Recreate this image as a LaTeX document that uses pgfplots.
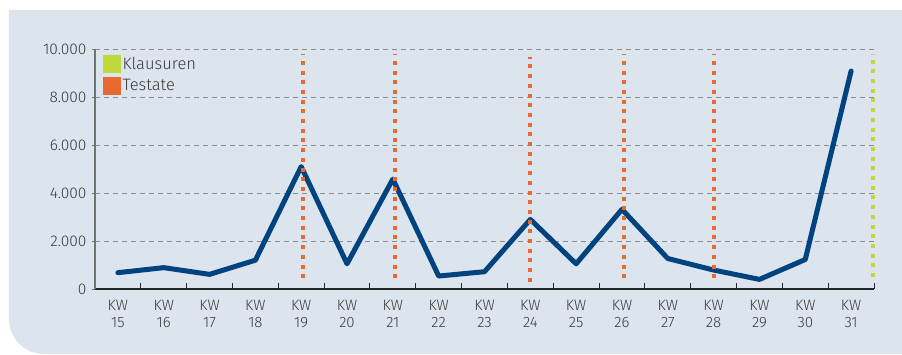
\documentclass[border=0pt]{standalone}
\usepackage{fontspec}
\setmainfont{Fira Sans}[UprightFont={* Light}]
\usepackage{pgfplots}
\pgfplotsset{compat=1.18}
\definecolor{panel}{HTML}{DCE4EE}
\definecolor{kwline}{HTML}{00437F}
\definecolor{klaus}{HTML}{BED73B}
\definecolor{testat}{HTML}{E86A30}
\definecolor{txt}{HTML}{3A3A3A}

\begin{document}
\begin{tikzpicture}
% page and rounded panel
\path[use as bounding box] (-95pt,-65pt) rectangle (807pt,289pt);
\fill[white] (-95pt,-65pt) rectangle (807pt,289pt);
\fill[panel] (-86pt,279pt) -- (807pt,279pt) -- (807pt,-65pt) -- (-51pt,-65pt)
  arc[start angle=270,end angle=180,radius=35pt] -- cycle;
\begin{axis}[
  at={(0pt,0pt)}, anchor=south west,
  scale only axis, width=779pt, height=240pt,
  xmin=-0.5, xmax=16.5, ymin=0, ymax=10000,
  clip=false,
  axis x line*=bottom, axis y line*=left,
  x axis line style={black!85, line width=1.2pt},
  y axis line style={black!55, line width=1.6pt},
  xtick={0,...,16},
  xticklabels={KW\\15,KW\\16,KW\\17,KW\\18,KW\\19,KW\\20,KW\\21,KW\\22,KW\\23,KW\\24,KW\\25,KW\\26,KW\\27,KW\\28,KW\\29,KW\\30,KW\\31},
  xticklabel style={align=center, font=\fontsize{15}{16.5}\selectfont, text=txt, yshift=-8pt},
  major x tick style={draw=none},
  minor xtick={0.5,1.5,...,16.5},
  minor x tick style={black!85, line width=1pt},
  minor tick length=6pt,
  tick align=inside,
  ytick={0,2000,...,10000},
  yticklabels={0,2.000,4.000,6.000,8.000,10.000},
  scaled y ticks=false,
  major tick length=3pt,
  y tick style={black!55, line width=1pt, xshift=-3pt},
  yticklabel style={font=\fontsize{15.5}{16}\selectfont, text=txt, xshift=-5pt},
  ymajorgrids,
  y grid style={black!45, line width=0.8pt, dash pattern=on 5pt off 4pt},
  legend style={at={(axis cs:-0.5,10000)}, anchor=north west, draw=none, fill=none,
    font=\fontsize{16.5}{18}\selectfont, text=txt, row sep=4pt,
    xshift=6pt, yshift=-4pt, inner sep=2pt},
  legend cell align=left,
]
\addlegendimage{legend image code/.code={\fill[klaus] (0pt,-8.5pt) rectangle (17pt,8.5pt);}}
\addlegendentry{Klausuren}
\addlegendimage{legend image code/.code={\fill[testat] (0pt,-8.5pt) rectangle (17pt,8.5pt);}}
\addlegendentry{Testate}

% weekly counts
\addplot[kwline, line width=5pt, line join=round, line cap=round, forget plot] coordinates {
  (0,680) (1,890) (2,610) (3,1200) (4,5100) (5,1050) (6,4580) (7,540) (8,720)
  (9,2900) (10,1050) (11,3320) (12,1270) (13,790) (14,400) (15,1230) (16,9080)
};

% Testate weeks
\addplot[testat, line width=4pt, dash pattern=on 4pt off 5.7pt, forget plot] coordinates {(4.05,450) (4.05,9800)};
\addplot[testat, line width=4pt, dash pattern=on 4pt off 5.7pt, forget plot] coordinates {(6.05,450) (6.05,9800)};
\addplot[testat, line width=4pt, dash pattern=on 4pt off 5.7pt, forget plot] coordinates {(9.0,300) (9.0,9650)};
\addplot[testat, line width=4pt, dash pattern=on 4pt off 5.7pt, forget plot] coordinates {(11.05,450) (11.05,9800)};
\addplot[testat, line width=4pt, dash pattern=on 4pt off 5.7pt, forget plot] coordinates {(13.0,450) (13.0,9800)};
% Klausuren
\addplot[klaus, line width=4pt, dash pattern=on 4pt off 5.7pt, forget plot] coordinates {(16.47,500) (16.47,9800)};
\end{axis}
\end{tikzpicture}
\end{document}
